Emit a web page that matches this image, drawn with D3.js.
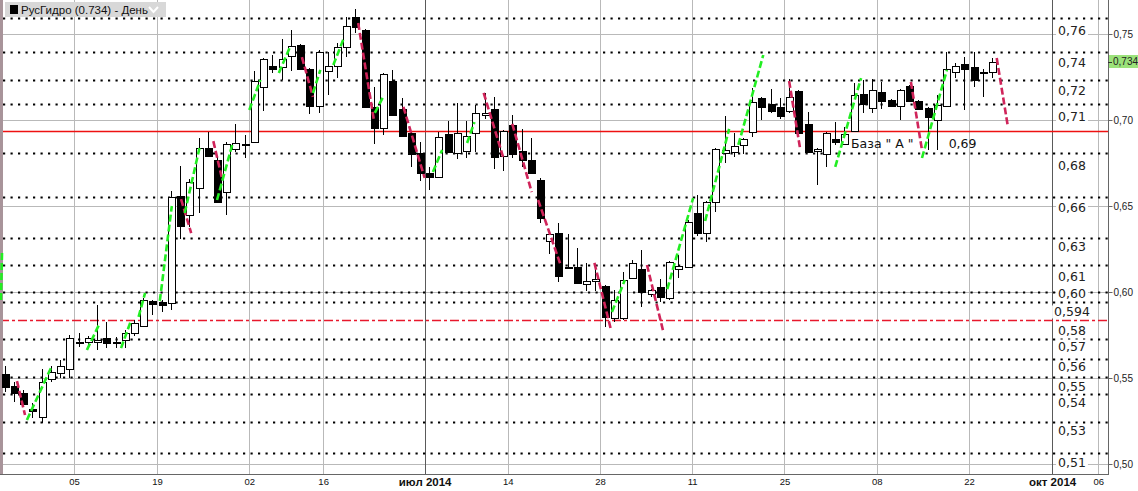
<!DOCTYPE html>
<html><head><meta charset="utf-8">
<script src="https://cdn.jsdelivr.net/npm/d3@7"></script>
<style>body{margin:0;background:#fff;overflow:hidden;} svg{display:block;}</style>
</head><body><svg id="c" width="1138" height="491"></svg>
<script>
// ---- data (daily candles, index 0..107) ----
const opens  = [.5523,.5453,.5413,.5320,.5273,.5494,.5529,.5552,.5704,.5709,.5709,.5733,.5709,.5721,.5762,.5802,.5948,.5942,.5936,.6558,.6448,.6605,.6837,.6767,.6581,.6831,.6860,.6872,.7192,.7314,.7308,.7372,.7436,.7296,.7081,.7285,.7314,.7424,.7599,.7523,.7076,.6954,.7227,.7064,.6925,.6808,.6692,.6669,.6919,.6808,.6820,.6925,.7029,.7064,.6791,.6971,.6820,.6767,.6651,.6297,.6343,.6140,.6145,.6046,.6064,.6035,.5849,.5849,.6081,.6134,.5988,.6029,.5965,.6134,.6145,.6459,.6343,.6523,.6808,.6814,.6855,.6930,.7128,.7093,.7076,.7052,.7169,.6977,.6820,.6802,.6889,.6860,.6936,.7151,.7070,.7163,.7116,.7081,.7198,.7111,.7070,.7000,.7081,.7279,.7326,.7308,.7273,.7279];
const highs  = [.5570,.5477,.5430,.5355,.5552,.5570,.5605,.5750,.5762,.5744,.5924,.5826,.5738,.5779,.5837,.5965,.5954,.5954,.6587,.6733,.6657,.6895,.6930,.6785,.6872,.6977,.6913,.7285,.7360,.7378,.7471,.7523,.7442,.7302,.7407,.7395,.7448,.7599,.7645,.7529,.7192,.7273,.7291,.7128,.6930,.6872,.6727,.6930,.6994,.7099,.6994,.7087,.7157,.7134,.6942,.7029,.6948,.6895,.6663,.6340,.6401,.6337,.6256,.6169,.6140,.6040,.6012,.6116,.6186,.6244,.6017,.6075,.6180,.6215,.6419,.6564,.6529,.6837,.7023,.6925,.6895,.7186,.7134,.7180,.7128,.7238,.7174,.7047,.6837,.6930,.6988,.6959,.7215,.7233,.7238,.7221,.7122,.7180,.7203,.7116,.7076,.7145,.7395,.7331,.7366,.7395,.7296,.7360];
const lows   = [.5419,.5361,.5337,.5267,.5238,.5477,.5500,.5500,.5680,.5692,.5663,.5674,.5674,.5674,.5744,.5797,.5866,.5884,.5895,.6308,.6378,.6459,.6785,.6517,.6448,.6814,.6779,.6866,.7052,.7273,.7233,.7285,.7290,.7035,.7041,.7145,.7244,.7366,.7506,.7070,.6860,.6913,.7023,.6901,.6727,.6645,.6593,.6669,.6808,.6773,.6779,.6814,.7006,.6715,.6704,.6779,.6727,.6686,.6401,.6221,.6058,.6134,.6046,.6006,.6006,.5797,.5826,.5837,.6075,.5913,.5971,.5942,.5954,.6081,.6140,.6326,.6291,.6465,.6750,.6785,.6802,.6901,.7000,.7041,.7006,.7041,.6919,.6808,.6622,.6727,.6855,.6855,.6930,.7041,.7041,.7064,.7076,.7000,.7105,.7058,.6826,.6826,.7076,.7244,.7058,.7192,.7134,.7244];
const closes = [.5448,.5413,.5349,.5308,.5477,.5535,.5570,.5733,.5707,.5733,.5721,.5704,.5712,.5762,.5820,.5954,.5930,.5924,.6552,.6384,.6640,.6837,.6791,.6523,.6860,.6866,.6863,.7227,.7355,.7296,.7355,.7430,.7296,.7081,.7395,.7314,.7424,.7547,.7541,.7076,.6954,.7268,.7029,.6907,.6802,.6692,.6669,.6901,.6814,.6925,.6907,.7041,.7041,.6785,.6936,.6802,.6767,.6692,.6430,.6337,.6093,.6145,.6052,.6064,.6075,.5855,.5954,.6070,.6169,.6000,.6012,.5971,.6174,.6151,.6407,.6343,.6523,.6831,.6825,.6849,.6889,.7105,.7076,.7052,.7023,.7134,.6925,.6814,.6831,.6925,.6872,.6919,.7145,.7093,.7174,.7111,.7081,.7174,.7111,.7064,.7017,.7087,.7296,.7314,.7296,.7233,.7279,.7340];

const xTickPos    = [7.5,16.5,26.5,34.5,45.5,54.5,64.5,74.5,84.5,94.5,104.5,113.5,118.5];
const xTickLabels = ["05","19","02","16","июл 2014","14","28","11","25","08","22","окт 2014","06"];
const xTickMonth  = [false,false,false,false,true,false,false,false,false,false,false,true,false];

const priceTicks  = [0.50,0.55,0.60,0.65,0.70,0.75];
const levelValues = [.7593,.7395,.7233,.7093,.6808,.6552,.6314,.6157,.6000,.5942,.5727,.5610,.5506,.5407,.5244,.5064];
const levelLabels = ["0,76","0,74","0,72","0,71","0,68","0,66","0,63","0,61","0,60","0,594","0,58","0,57","0,56","0,55","0,54","0,53","0,51"];
const levelLabelAt= [.7523,.7337,.7169,.7023,.6733,.6494,.6267,.6093,.5994,.5884,.5779,.5686,.5564,.5448,.5355,.5192,.5006];
const baseLine    = 0.6936;
const supportLine = 0.5837;
const baseText    = "База \" А \"";
const baseValueText = "0,69";
const lastPrice   = 0.734;
const legendText  = "РусГидро (0.734) - День";

// trend segments: [index1, price1, index2, price2]
const redTrends = [[1.32,.5482,2.19,.5285],[19.1,.6540,20.2,.6343],[22.6,.6877,23.5,.6669],[32.2,.7366,33.4,.7134],
  [38.3,.7564,40.0,.7000],[43.2,.7076,45.5,.6663],[51.9,.7157,54.0,.6785],[55.0,.6977,57.1,.6581],[57.8,.6535,60.2,.6163],
  [63.9,.6169,65.7,.5779],[69.6,.6157,71.4,.5762],[85.0,.7227,86.2,.6831],[98.2,.7221,99.4,.6826],[107.5,.7360,108.7,.6965]];
const greenTrends = [[-0.42,.5954,-0.3,.6233],[2.4,.5256,5.1,.5570],[8.9,.5663,10.3,.5820],[12.6,.5674,13.7,.5837],[14.5,.5855,15.2,.5994],
  [16.8,.5948,18.1,.6500],[19.5,.6459,21.1,.6837],[23.0,.6535,24.7,.6866],[26.5,.7058,27.7,.7233],[29.7,.7273,30.9,.7424],
  [33.4,.7157,34.2,.7291],[35.6,.7320,36.8,.7483],[40.1,.7041,41.1,.7145],[46.4,.6698,47.4,.6826],[50.1,.6866,50.9,.6988],
  [65.8,.5884,67.2,.6070],[71.8,.6017,74.6,.6546],[75.9,.6413,78.5,.6948],[79.5,.6855,82.2,.7378],[90.0,.6727,92.8,.7244],
  [99.4,.6779,102.1,.7291]];

// ---- layout ----
const W = 1138, H = 491, plotR = 1108, plotB = 474;
const svg = d3.select("#c");
const x = d3.scaleLinear().domain([-0.52, 119.56]).range([0, plotR]);
const y = d3.scaleLinear().domain([0.50, 0.75]).range([464, 34]);
const px = v => Math.round(v) + 0.5;
const fmt = v => d3.format(".2f")(v).replace(".", ",");

svg.append("rect").attr("width", W).attr("height", H).attr("fill", "#fff");

// grid
const grid = svg.append("g");
grid.selectAll(".hg").data(priceTicks).join("line")
  .attr("x1", 0).attr("x2", plotR).attr("y1", d => px(y(d))).attr("y2", d => px(y(d)))
  .attr("stroke", "#b9b9b9").attr("stroke-width", 1);
grid.selectAll(".vg").data(xTickPos).join("line")
  .attr("x1", d => px(x(d))).attr("x2", d => px(x(d))).attr("y1", 0).attr("y2", plotB)
  .attr("stroke", (d, i) => xTickMonth[i] ? "#5a5a5a" : "#b9b9b9").attr("stroke-width", 1);

// dotted level lines
svg.append("g").selectAll("line").data(levelValues).join("line")
  .attr("x1", 3).attr("x2", plotR).attr("y1", d => px(y(d))).attr("y2", d => px(y(d)))
  .attr("stroke", "#000").attr("stroke-width", 2.2).attr("stroke-dasharray", "2.2,5.3");

// red horizontal lines
svg.append("line").attr("x1", 0).attr("x2", plotR).attr("y1", px(y(baseLine))).attr("y2", px(y(baseLine)))
  .attr("stroke", "#ee1111").attr("stroke-width", 1.3);
svg.append("line").attr("x1", 0).attr("x2", plotR).attr("y1", px(y(supportLine))).attr("y2", px(y(supportLine)))
  .attr("stroke", "#e8182c").attr("stroke-width", 1.6).attr("stroke-dasharray", "9,3,3,3");

// left border strip
svg.append("rect").attr("x", 0).attr("y", 0).attr("width", 3).attr("height", plotB).attr("fill", "#a8949a");

// candles
const idx = d3.range(opens.length);
const cg = svg.append("g");
cg.selectAll(".wick").data(idx).join("line")
  .attr("x1", i => px(x(i))).attr("x2", i => px(x(i)))
  .attr("y1", i => Math.round(y(highs[i]))).attr("y2", i => Math.round(y(lows[i])))
  .attr("stroke", "#000").attr("stroke-width", 1);
cg.selectAll(".body").data(idx).join("rect")
  .attr("x", i => Math.round(x(i)) - 3 + 0.5)
  .attr("y", i => Math.round(y(Math.max(opens[i], closes[i]))) + 0.5)
  .attr("width", 7)
  .attr("height", i => Math.max(1, Math.round(y(Math.min(opens[i], closes[i]))) - Math.round(y(Math.max(opens[i], closes[i])))))
  .attr("fill", i => closes[i] >= opens[i] ? "#fff" : "#000")
  .attr("stroke", "#000").attr("stroke-width", 1);

// trend segments
const tg = svg.append("g");
tg.selectAll(".r").data(redTrends).join("line")
  .attr("x1", d => x(d[0])).attr("y1", d => y(d[1])).attr("x2", d => x(d[2])).attr("y2", d => y(d[3]))
  .attr("stroke", "#d0245a").attr("stroke-width", 2.6).attr("stroke-dasharray", "7,3");
tg.selectAll(".g").data(greenTrends).join("line")
  .attr("x1", d => x(d[0])).attr("y1", d => y(d[1])).attr("x2", d => x(d[2])).attr("y2", d => y(d[3]))
  .attr("stroke", "#22ee22").attr("stroke-width", 2.6).attr("stroke-dasharray", "7,3");

// base annotation text
svg.append("text").attr("x", x(95.1)).attr("y", y(baseLine) + 17).attr("text-anchor", "middle")
  .attr("font-family", "DejaVu Sans, sans-serif").attr("font-size", 12.5).attr("fill", "#111").text(baseText);
svg.append("text").attr("x", x(103.8)).attr("y", y(baseLine) + 17).attr("text-anchor", "middle")
  .attr("font-family", "DejaVu Sans, sans-serif").attr("font-size", 12.5).attr("fill", "#111").text(baseValueText);

// inner level labels
const lg = svg.append("g");
levelLabels.forEach((t, i) => {
  const cy = y(levelLabelAt[i]);
  const tx = lg.append("text").attr("x", 1072).attr("y", cy + 4.5).attr("text-anchor", "middle")
    .attr("font-family", "DejaVu Sans, sans-serif").attr("font-size", 12.5).attr("fill", "#222").text(t);
  const bb = tx.node().getBBox();
  lg.insert("rect", () => tx.node()).attr("x", bb.x - 2).attr("y", cy - 6.5).attr("width", bb.width + 4).attr("height", 13).attr("fill", "#fff");
});

// right axis
svg.append("rect").attr("x", plotR + 1).attr("y", 0).attr("width", W - plotR).attr("height", H).attr("fill", "#fff");
const ra = svg.append("g").attr("transform", `translate(${plotR + 0.5},0)`)
  .call(d3.axisRight(y).tickValues(priceTicks).tickSize(4).tickPadding(1).tickFormat(fmt));
ra.select(".domain").remove();
ra.selectAll("line").attr("stroke", "#666");
ra.selectAll("text").attr("font-family", "Liberation Sans, Arial, sans-serif").attr("font-size", 10).attr("fill", "#222");
svg.append("line").attr("x1", plotR + 0.5).attr("x2", plotR + 0.5).attr("y1", 0).attr("y2", plotB)
  .attr("stroke", "#666");
// last price marker
const ly = y(lastPrice);
svg.append("rect").attr("x", plotR + 1).attr("y", ly - 6.5).attr("width", 30).attr("height", 13).attr("fill", "#9be27a");
svg.append("line").attr("x1", plotR).attr("x2", plotR + 4).attr("y1", px(ly)).attr("y2", px(ly)).attr("stroke", "#333");
svg.append("text").attr("x", plotR + 5).attr("y", ly + 3.5).attr("font-family", "Liberation Sans, Arial, sans-serif")
  .attr("font-size", 10).attr("fill", "#222").text(d3.format(".3f")(lastPrice).replace(".", ","));

// bottom axis
svg.append("line").attr("x1", 0).attr("x2", plotR + 1).attr("y1", plotB + 0.5).attr("y2", plotB + 0.5).attr("stroke", "#666");
const ba = svg.append("g").attr("transform", `translate(0,${plotB})`)
  .call(d3.axisBottom(x).tickValues(xTickPos).tickSize(0).tickPadding(4).tickFormat((d, i) => xTickLabels[i]));
ba.select(".domain").remove();
ba.selectAll("text").attr("font-family", "Liberation Sans, Arial, sans-serif").attr("fill", "#111")
  .attr("font-size", (d, i) => xTickMonth[i] ? 11.5 : 9.5).attr("font-weight", (d, i) => xTickMonth[i] ? "bold" : "normal");

// legend
const lgd = svg.append("g");
lgd.append("rect").attr("x", 5).attr("y", 2).attr("width", 161).attr("height", 15).attr("fill", "#d8d8d8");
lgd.append("rect").attr("x", 10).attr("y", 5).attr("width", 8).attr("height", 9).attr("fill", "#000");
lgd.append("text").attr("x", 21).attr("y", 14).attr("font-family", "Liberation Sans, Arial, sans-serif")
  .attr("font-size", 11.5).attr("fill", "#111").text(legendText);
lgd.append("path").attr("d", "M149,7 L153.5,12 L158,7").attr("fill", "none").attr("stroke", "#fff").attr("stroke-width", 2);
</script></body></html>
